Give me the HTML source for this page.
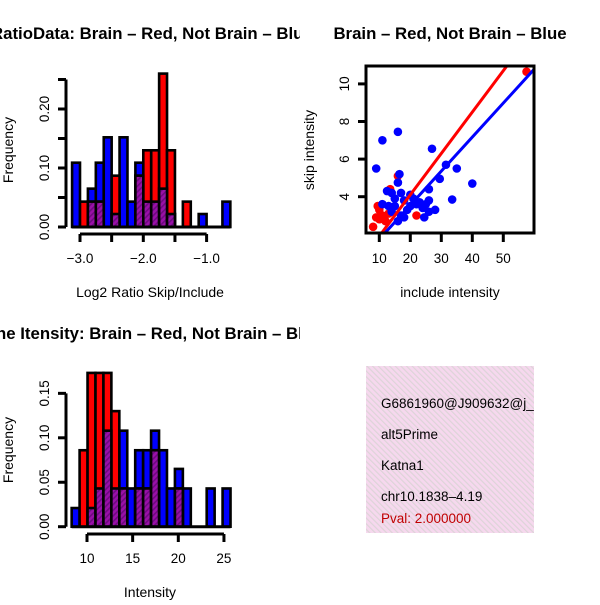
<!DOCTYPE html>
<html><head><meta charset="utf-8"><style>
html,body{margin:0;padding:0;background:#fff}
svg text{font-family:"Liberation Sans",sans-serif}
</style></head><body>
<svg id="fig" width="600" height="600" viewBox="0 0 600 600" xmlns="http://www.w3.org/2000/svg">
<defs>
<pattern id="hatch" patternUnits="userSpaceOnUse" width="4" height="4" patternTransform="rotate(45)">
<rect width="4" height="4" fill="#9a10a8"/><rect width="1.6" height="4" fill="#6e0a80"/>
</pattern>
<pattern id="pinkhatch" patternUnits="userSpaceOnUse" width="4" height="4" patternTransform="rotate(-45)">
<rect width="4" height="4" fill="#f6d8ee"/><rect width="1.2" height="4" fill="#ddd4d8"/>
</pattern>
<clipPath id="c1"><rect x="0" y="0" width="300" height="300"/></clipPath>
<clipPath id="c3"><rect x="0" y="300" width="300" height="300"/></clipPath>
<clipPath id="c2"><rect x="366" y="66" width="168" height="167"/></clipPath>
<clipPath id="c4"><rect x="366" y="366" width="168" height="167"/></clipPath>
</defs>
<g id="p1" clip-path="url(#c1)"></g>
<g id="p3" clip-path="url(#c3)"></g>
<g id="p2"></g>
<g id="p4">
<rect x="366" y="366" width="168" height="167" fill="url(#pinkhatch)"/>
<g clip-path="url(#c4)" font-size="13.5">
<text x="381" y="408">G6861960@J909632@j_</text>
<text x="381" y="439">alt5Prime</text>
<text x="381" y="470">Katna1</text>
<text x="381" y="501">chr10.1838–4.19</text>
<text x="381" y="523" fill="#c00000">Pval: 2.000000</text>
</g>
</g>
</svg>
<script>
// Ratio histogram data
const ratioStart = -3.125, ratioWidth = 0.125;
const ratioBlue = [0.109,0,0.065,0.109,0.152,0.022,0.152,0.043,0.109,0.043,0.043,0.065,0.022,0,0,0,0.022,0,0,0.043];
const ratioRed  = [0,0.043,0.043,0.043,0,0.087,0,0,0.087,0.13,0.13,0.26,0.13,0,0.043,0,0,0,0,0];
const ratioXTicks = [-3.0,-2.5,-2.0,-1.5,-1.0];
const ratioXLabels = ["−3.0","","−2.0","","−1.0"];
const ratioYTicks = [0,0.05,0.10,0.15,0.20,0.25];
const ratioYLabels = ["0.00","","0.10","","0.20",""];
// Intensity histogram data
const intStart = 8.32, intWidth = 0.87;
const intBlue = [0.021,0,0.021,0.043,0.108,0.043,0.108,0.043,0.086,0.086,0.108,0.086,0.043,0.065,0.043,0,0,0.043,0,0.043];
const intRed  = [0,0.086,0.173,0.173,0.173,0.13,0.043,0,0.043,0.043,0.086,0,0,0.043,0,0,0,0,0,0];
const intXTicks = [10,15,20,25];
const intXLabels = ["10","15","20","25"];
const intYTicks = [0,0.05,0.10,0.15];
const intYLabels = ["0.00","0.05","0.10","0.15"];
// Scatter data
const blueX = [9,11,16,27,16.5,31.5,35,29.5,40,33.5,16,12.5,26,24.5,28,26,20,18,15,13,11,14,17,16,18,22,24,23,21,17,14,26,20,15,19,25];
const blueY = [5.5,7,7.45,6.55,5.2,5.7,5.5,4.95,4.7,3.85,4.75,4.3,4.4,2.9,3.3,3.8,4.1,3.8,3.9,3.5,3.6,3.2,3.0,2.7,2.9,3.6,3.4,3.7,3.9,4.2,4.2,3.2,3.5,3.5,3.3,3.6];
const redX = [8,9.5,10,11,12,13,13.5,9,16,11.5,22,57.5,10];
const redY = [2.4,3.5,2.8,3.0,2.7,3.1,4.4,2.9,5.1,2.9,3.0,10.65,3.3];
const redFit = [-0.3,0.22];   // intercept, slope
const blueFit = [-0.07,0.181];
const scXTicks = [10,20,30,40,50];
const scYTicks = [4,6,8,10];

const NS="http://www.w3.org/2000/svg";
function mk(parent,tag,attrs,text){const e=document.createElementNS(NS,tag);for(const k in attrs)e.setAttribute(k,attrs[k]);if(text!==undefined)e.textContent=text;parent.appendChild(e);return e;}
const TICK=13.5, LAB=14, TITLE=16.8;

function hist(g,start,width,blue,red,sx,sy,y0,pref){
  const n=blue.length;
  for(let i=0;i<n;i++){
    const x0=sx(start+i*width),x1=sx(start+(i+1)*width);
    if(blue[i]>0){const r=mk(g,'rect',{x:x0,y:sy(blue[i]),width:x1-x0,height:y0-sy(blue[i]),fill:'#0000ff',stroke:'#000','stroke-width':2.6});
      
      }
  }
  for(let i=0;i<n;i++){
    const x0=sx(start+i*width),x1=sx(start+(i+1)*width);
    if(red[i]>0){const r=mk(g,'rect',{x:x0,y:sy(red[i]),width:x1-x0,height:y0-sy(red[i]),fill:'#ff0000',stroke:'#000','stroke-width':2.6});
      
      }
  }
  for(let i=0;i<n;i++){
    const x0=sx(start+i*width),x1=sx(start+(i+1)*width);const m=Math.min(blue[i],red[i]);
    if(m>0){const r=mk(g,'rect',{x:x0,y:sy(m),width:x1-x0,height:y0-sy(m),fill:'url(#hatch)',stroke:'#000','stroke-width':2.6});
      
      }
  }
  const l=mk(g,'line',{x1:sx(start),x2:sx(start+n*width),y1:y0,y2:y0,stroke:'#000','stroke-width':3});
  
  
}
function axes(g,sx,sy,xt,xl,yt,yl,axY,axX,pref){
  mk(g,'line',{x1:sx(xt[0]),x2:sx(xt[xt.length-1]),y1:axY,y2:axY,stroke:'#000','stroke-width':3});
  xt.forEach((v,i)=>{mk(g,'line',{x1:sx(v),x2:sx(v),y1:axY,y2:axY+8,stroke:'#000','stroke-width':3});
    if(xl[i]){const t=mk(g,'text',{x:sx(v),y:axY+29,'text-anchor':'middle','font-size':TICK},xl[i]);
      
      }});
  mk(g,'line',{x1:axX,x2:axX,y1:sy(yt[0]),y2:sy(yt[yt.length-1]),stroke:'#000','stroke-width':3});
  yt.forEach((v,i)=>{mk(g,'line',{x1:axX,x2:axX-8,y1:sy(v),y2:sy(v),stroke:'#000','stroke-width':3});
    if(yl[i]){const t=mk(g,'text',{x:axX-17,y:sy(v),'text-anchor':'middle','font-size':TICK,transform:`rotate(-90 ${axX-17} ${sy(v)})`},yl[i]);
      
      }});
}
// Panel 1
(function(){
  const g=document.getElementById('p1');
  const sx=v=>80+(v+3)*63.3, sy=v=>227-v*590;
  hist(g,ratioStart,ratioWidth,ratioBlue,ratioRed,sx,sy,227,'ratio');
  axes(g,sx,sy,ratioXTicks,ratioXLabels,ratioYTicks,ratioYLabels,234,66,'ratio');
  let t=mk(g,'text',{x:-9,y:39,'font-size':TITLE,'font-weight':'bold'},'RatioData: Brain – Red, Not Brain – Blue');
  
  t=mk(g,'text',{x:150,y:297,'text-anchor':'middle','font-size':LAB},'Log2 Ratio Skip/Include');
  
  t=mk(g,'text',{x:13,y:150,'text-anchor':'middle','font-size':LAB,transform:'rotate(-90 13 150)'},'Frequency');
  
})();
// Panel 3
(function(){
  const g=document.getElementById('p3');
  const sx=v=>87+(v-10)*9.13, sy=v=>526.7-v*889;
  hist(g,intStart,intWidth,intBlue,intRed,sx,sy,526.7,'intensity');
  axes(g,sx,sy,intXTicks,intXLabels,intYTicks,intYLabels,534,66,'intensity');
  let t=mk(g,'text',{x:-4,y:339,'font-size':TITLE,'font-weight':'bold'},'ne Itensity: Brain – Red, Not Brain – Blue');
  
  t=mk(g,'text',{x:150,y:597,'text-anchor':'middle','font-size':LAB},'Intensity');
  
  t=mk(g,'text',{x:13,y:450,'text-anchor':'middle','font-size':LAB,transform:'rotate(-90 13 450)'},'Frequency');
  
})();
// Panel 2 scatter
(function(){
  const g=document.getElementById('p2');
  const sx=v=>379.3+(v-10)*3.1, sy=v=>196.7-(v-4)*18.8;
  const pg=mk(g,'g',{'clip-path':'url(#c2)'});
  redX.forEach((x,i)=>{const c=mk(pg,'circle',{cx:sx(x),cy:sy(redY[i]),r:4.3,fill:'#ff0000'});
    });
  blueX.forEach((x,i)=>{const c=mk(pg,'circle',{cx:sx(x),cy:sy(blueY[i]),r:4.3,fill:'#0000ff'});
    });
  let l=mk(pg,'line',{x1:sx(0),y1:sy(redFit[0]),x2:sx(70),y2:sy(redFit[0]+redFit[1]*70),stroke:'#ff0000','stroke-width':3});
  
  l=mk(pg,'line',{x1:sx(0),y1:sy(blueFit[0]),x2:sx(70),y2:sy(blueFit[0]+blueFit[1]*70),stroke:'#0000ff','stroke-width':3});
  
  const b=mk(g,'rect',{x:366,y:66,width:168,height:167,fill:'none',stroke:'#000','stroke-width':3});
  
  scXTicks.forEach(v=>{mk(g,'line',{x1:sx(v),x2:sx(v),y1:233,y2:242,stroke:'#000','stroke-width':3});
    const t=mk(g,'text',{x:sx(v),y:263,'text-anchor':'middle','font-size':TICK},String(v));
    });
  scYTicks.forEach(v=>{mk(g,'line',{x1:366,x2:358,y1:sy(v),y2:sy(v),stroke:'#000','stroke-width':3});
    const t=mk(g,'text',{x:349,y:sy(v),'text-anchor':'middle','font-size':TICK,transform:`rotate(-90 349 ${sy(v)})`},String(v));
    });
  let t=mk(g,'text',{x:450,y:39,'text-anchor':'middle','font-size':TITLE,'font-weight':'bold'},'Brain – Red, Not Brain – Blue');
  
  t=mk(g,'text',{x:450,y:297,'text-anchor':'middle','font-size':LAB},'include intensity');
  
  t=mk(g,'text',{x:314,y:150,'text-anchor':'middle','font-size':LAB,transform:'rotate(-90 314 150)'},'skip intensity');
  
})();
</script>
</body></html>
